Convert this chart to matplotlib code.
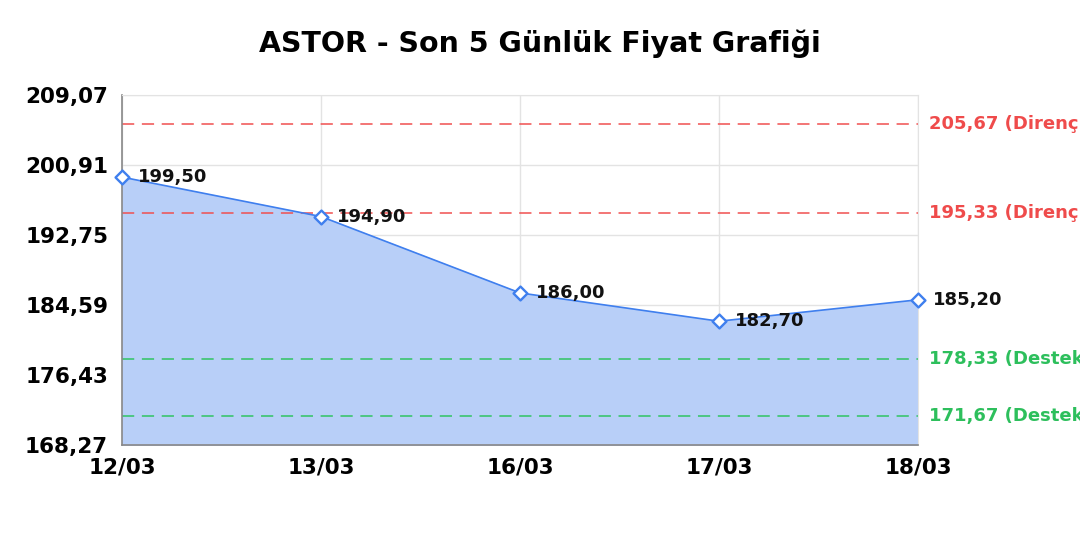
import matplotlib
matplotlib.use("Agg")
import matplotlib.pyplot as plt
from matplotlib.ticker import FixedLocator, FuncFormatter

plt.rcParams["font.family"] = ["DejaVu Sans"]

dates = ["12/03", "13/03", "16/03", "17/03", "18/03"]
prices = [199.50, 194.90, 186.00, 182.70, 185.20]
resistance = [205.67, 195.33]
support = [178.33, 171.67]
y_ticks = [168.27, 176.43, 184.59, 192.75, 200.91, 209.07]


def tr(v):
    return f"{v:.2f}".replace(".", ",")


fig = plt.figure(figsize=(10.8, 5.4), dpi=100)
ax = fig.add_axes([122 / 1080, 1 - 445 / 540, 796 / 1080, 350 / 540])
x = list(range(len(dates)))

ax.fill_between(x, prices, y_ticks[0], color="#b8cff8", zorder=1)
ax.plot(x, prices, color="#3f7fee", lw=1.2, zorder=3)
ax.scatter(x, prices, marker="D", s=50, facecolor="white", edgecolor="#3f7fee",
           linewidths=1.7, zorder=4, clip_on=False)
for xi, p in zip(x, prices):
    dx = 0.08 if xi < len(x) - 1 else 0.075
    ax.text(xi + dx, p, tr(p), fontsize=13, fontweight="bold", color="#111111",
            va="center", ha="left", zorder=5, clip_on=False)

# the reference cuts these labels at the right edge of the picture
for r in resistance:
    ax.axhline(r, color="#f05050", ls=(0, (8, 5)), lw=1.1, zorder=2)
    ax.text(1.014, r, f"{tr(r)} (Direnç)", transform=ax.get_yaxis_transform(),
            color="#ef4b4b", fontsize=13, fontweight="bold", va="center", clip_on=False)
for s in support:
    ax.axhline(s, color="#30c462", ls=(0, (8, 5)), lw=1.1, zorder=2)
    ax.text(1.014, s, f"{tr(s)} (Destek)", transform=ax.get_yaxis_transform(),
            color="#2dbf5c", fontsize=13, fontweight="bold", va="center", clip_on=False)

ax.set_xlim(0, len(x) - 1)
ax.set_ylim(y_ticks[0], y_ticks[-1])
ax.yaxis.set_major_locator(FixedLocator(y_ticks))
ax.yaxis.set_major_formatter(FuncFormatter(lambda v, _: tr(v)))
ax.set_xticks(x)
ax.set_xticklabels(dates)
ax.grid(True, color="#e3e3e3", lw=1, zorder=0)
ax.set_axisbelow(True)
ax.tick_params(length=0, labelsize=15.5)
ax.tick_params(axis="x", pad=9)
ax.tick_params(axis="y", pad=10)
for lab in ax.get_xticklabels() + ax.get_yticklabels():
    lab.set_fontweight("bold")
for side in ["left", "bottom"]:
    ax.spines[side].set_color("#888888")
    ax.spines[side].set_linewidth(1.2)
for side in ["top", "right"]:
    ax.spines[side].set_color("#e3e3e3")

fig.suptitle("ASTOR - Son 5 Günlük Fiyat Grafiği", fontsize=20.5, fontweight="bold",
             x=540 / 1080, y=1 - 29 / 540, va="top")
fig.savefig("out.png", dpi=100)
